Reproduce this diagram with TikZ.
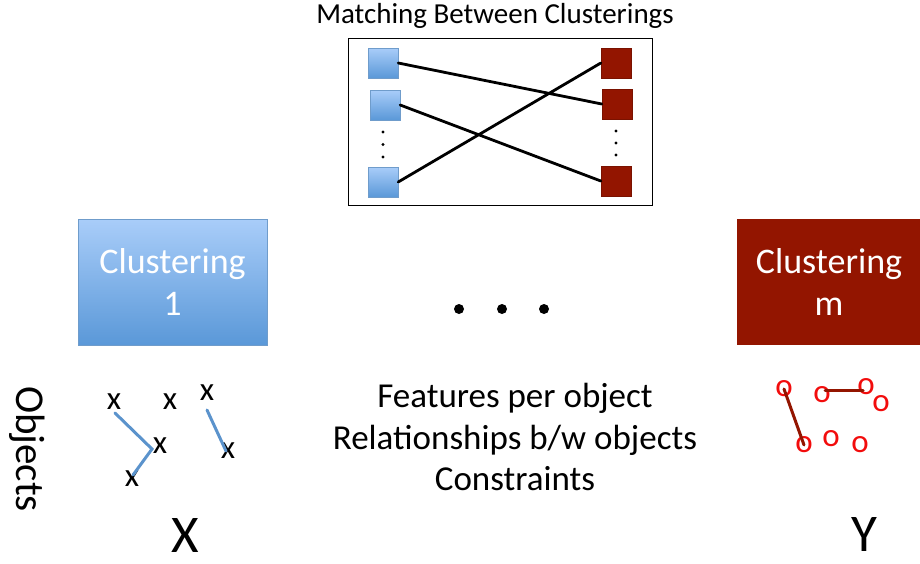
\documentclass[tikz,border=0pt]{standalone}
\usepackage{fontspec}
\setmainfont{Carlito}
\usetikzlibrary{positioning}
\definecolor{skyhi}{HTML}{A9CDF9}
\definecolor{skylo}{HTML}{5A98D8}
\definecolor{skyedge}{HTML}{6F9CCB}
\definecolor{brick}{HTML}{931500}
\definecolor{brickedge}{HTML}{7A1200}
\definecolor{link}{HTML}{5B93CC}
\definecolor{redo}{HTML}{F20C0C}

\begin{document}
\begin{tikzpicture}[x=1pt,y=-1pt,
            bluesq/.style={draw=skyedge,shade,top color=skyhi,bottom color=skylo,minimum size=30,inner sep=0},
            redsq/.style={draw=brickedge,fill=brick,minimum size=30,inner sep=0},
            dot/.style={circle,fill,minimum size=3.2,inner sep=0},
            bigbox/.style={minimum height=126,align=center,text=white,font=\fontsize{36}{42}\selectfont},
            blob/.style={circle,fill,minimum size=10,inner sep=0},
            xmark/.style={font=\fontsize{33}{34}\selectfont,inner sep=0},
            omark/.style={xmark,text=redo},
            match/.style={draw,line width=2.8},
            every path/.style={line cap=round}
          ]
          \useasboundingbox (0,0) rectangle (920,563);

          %matching
          \node[font=\fontsize{29}{32}\selectfont] (title) at (495,16) {Matching Between Clusterings};
          \node[draw,line width=1,minimum width=304,minimum height=167] (frame) at (500,121.5) {};
          \node[bluesq] (b1) at (383,63) {};
          \node[bluesq] (b2) at (385,105) {};
          \node[bluesq] (b3) at (383,182) {};
          \node[redsq] (r1) at (616,63) {};
          \node[redsq] (r2) at (617,104) {};
          \node[redsq] (r3) at (616,181) {};
          \foreach \i/\y in {1/132,2/144.5,3/157}
            \node[dot] (bd\i) at (383,\y) {};
          \foreach \i/\y in {1/131,2/143,3/155}
            \node[dot] (rd\i) at (616,\y) {};
          \path[match]
          (b1.east) -- (r2.west)
          (b2.east) -- (r3.west)
          (b3.east) -- (r1.west)
          ;

          %clusterings
          \node[bigbox,draw=skyedge,shade,top color=skyhi,bottom color=skylo,minimum width=189] (c1) at (172.5,282) {Clustering\\1};
          \node[bigbox,fill=brick,minimum width=184] (cm) at (829,282) {Clustering\\m};
          \node[blob] (d1) at (459,309) {};
          \node[blob] (d2) at (502,309) {};
          \node[blob] (d3) at (544,309) {};

          %objects
          \node[rotate=-90,font=\fontsize{41}{44}\selectfont] (objects) at (27,449) {Objects};
          \node[xmark] (x1) at (114,402) {x};
          \node[xmark] (x2) at (170,402) {x};
          \node[xmark] (x3) at (207,393) {x};
          \node[xmark] (x4) at (160,446) {x};
          \node[xmark] (x5) at (228,451) {x};
          \node[xmark] (x6) at (132,479) {x};
          \coordinate (xa) at (115,413);
          \coordinate (xb) at (152,449);
          \coordinate (xc) at (133,475);
          \coordinate (xd) at (207,410);
          \coordinate (xe) at (226,451);
          \draw[link,line width=3] (xa) -- (xb) -- (xc);
          \draw[link,line width=3] (xd) -- (xe);

          \node[omark] (o1) at (784,389) {o};
          \node[omark] (o2) at (822,395) {o};
          \node[omark] (o3) at (866,387) {o};
          \node[omark] (o4) at (881,404) {o};
          \node[omark] (o5) at (804,445) {o};
          \node[omark] (o6) at (831,439) {o};
          \node[omark] (o7) at (860,445) {o};
          \coordinate (oa) at (825,390);
          \coordinate (ob) at (863,390);
          \draw[brick,line width=3] (o1.center) -- (o5.center);
          \draw[brick,line width=3] (oa) -- (ob);

          %data
          \node[align=center,font=\fontsize{35}{41.5}\selectfont] (feat) at (515,437) {Features per object\\Relationships b/w objects\\Constraints};
          \node[inner sep=0,font=\fontsize{53}{54}\selectfont] (xlab) at (185,535) {X};
          \node[inner sep=0,font=\fontsize{53}{54}\selectfont] (ylab) at (864,534) {Y};
      \end{tikzpicture}
\end{document}
